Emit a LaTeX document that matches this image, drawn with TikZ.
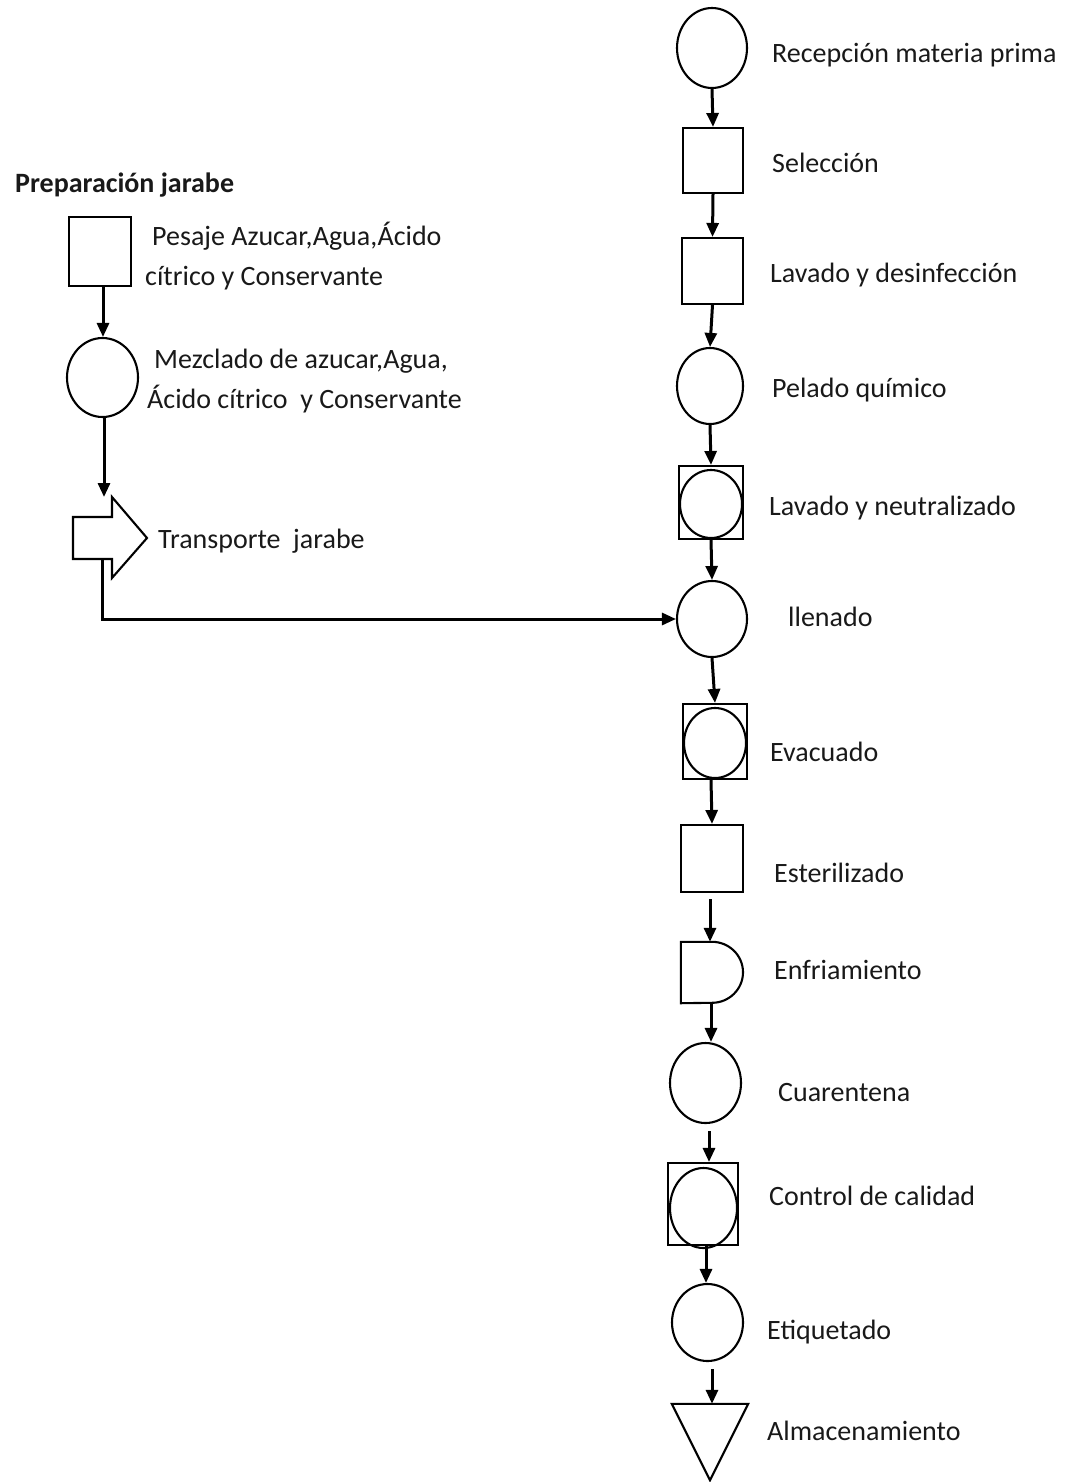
\documentclass[tikz,border=0pt]{standalone}
\usepackage{fontspec}
\setmainfont{Carlito}
\usetikzlibrary{shapes.geometric,arrows.meta}
\begin{document}
\begin{tikzpicture}[x=1pt,y=-1pt,
  shp/.style={draw=black,line width=2.1pt,inner sep=0pt},
  ell/.style={shp,ellipse},
  lbl/.style={anchor=base west,inner sep=0pt,text=black!90,font=\fontsize{28}{34}\selectfont},
  flow/.style={line width=3pt,-{Triangle[length=14pt,width=12pt]}}]
\useasboundingbox (0,0) rectangle (1070,1482);

% main line: shapes
\node[ell,minimum width=70pt,minimum height=80pt] (rec) at (712,48) {};
\node[shp,minimum width=60pt,minimum height=65pt] (sel) at (713,160.5) {};
\node[shp,minimum width=61pt,minimum height=66pt] (lavd) at (712.5,271) {};
\node[ell,minimum width=66pt,minimum height=76pt] (pel) at (710,386) {};
\node[shp,minimum width=64pt,minimum height=73pt] (lavn) at (711,502.5) {};
\node[ell,minimum width=62pt,minimum height=68pt] (lavnc) at (711,504) {};
\node[ell,minimum width=70pt,minimum height=76pt] (llen) at (712,619) {};
\node[shp,minimum width=64pt,minimum height=75pt] (evac) at (715,741.5) {};
\node[ell,minimum width=62pt,minimum height=70pt] (evacc) at (715,743) {};
\node[shp,minimum width=62pt,minimum height=67pt] (est) at (712,858.5) {};
\node[inner sep=0pt,minimum width=62pt,minimum height=61pt] (enf) at (712,972.5) {};
\draw[line width=2.1pt] (enf.north west) -- (enf.north)
  arc[start angle=90,end angle=-90,x radius=31pt,y radius=30.5pt]
  -- (enf.south west) -- cycle;
\node[ell,minimum width=71pt,minimum height=80pt] (cua) at (705.5,1083) {};
\node[shp,minimum width=70pt,minimum height=82pt] (ctl) at (703,1204) {};
\node[ell,minimum width=67pt,minimum height=80pt] (ctlc) at (703.5,1208) {};
\node[ell,minimum width=71pt,minimum height=77pt] (eti) at (707.5,1322.5) {};
\node[inner sep=0pt,minimum width=76pt,minimum height=76pt] (alm) at (710,1442) {};
\draw[line width=2.1pt,line join=miter] (alm.north west) -- (alm.north east) -- (alm.south) -- cycle;

% main line: labels
\node[lbl] (trec) at (772,63) {Recepción materia prima};
\node[lbl] (tsel) at (772,173) {Selección};
\node[lbl] (tlavd) at (770,282) {Lavado y desinfección};
\node[lbl] (tpel) at (772,397) {Pelado químico};
\node[lbl] (tlavn) at (769,515) {Lavado y neutralizado};
\node[lbl] (tllen) at (788,626) {llenado};
\node[lbl] (tevac) at (770,761) {Evacuado};
\node[lbl] (test) at (774,882) {Esterilizado};
\node[lbl] (tenf) at (774,979) {Enfriamiento};
\node[lbl] (tcua) at (778,1101) {Cuarentena};
\node[lbl] (tctl) at (769,1205) {Control de calidad};
\node[lbl] (teti) at (767,1339) {Etiquetado};
\node[lbl] (talm) at (767,1440) {Almacenamiento};

% main line: connectors
\draw[flow] (rec.south) -- (sel.north);
\draw[flow] (sel.south) -- (lavd.north);
\draw[flow] (lavd.south) -- (pel.north);
\draw[flow] (pel.south) -- (lavn.north);
\draw[flow] (lavn.south) -- (llen.north);
\draw[flow] (llen.south) -- (evac.north);
\draw[flow] ([xshift=-4pt]evac.south) -- (est.north);
\draw[flow,shorten <=6pt] ([xshift=-2pt]est.south) -- ([xshift=-2pt]est.south |- enf.north);
\draw[flow] ([xshift=-1pt]enf.south) -- ([xshift=-1pt]enf.south |- cua.north);
\draw[flow,shorten <=7pt] ([xshift=3.5pt]cua.south) -- ([xshift=3.5pt]cua.south |- ctl.north);
\draw[flow] ([xshift=3pt]ctl.south) -- ([xshift=3pt]ctl.south |- eti.north);
\draw[flow,shorten <=7pt] ([xshift=4.5pt]eti.south) -- ([xshift=2pt]alm.north);

% syrup branch
\node[lbl,font=\bfseries\fontsize{28}{34}\selectfont] (tprep) at (15,193) {Preparación jarabe};
\node[shp,minimum width=62pt,minimum height=69pt] (pes) at (100,251.5) {};
\node[ell,minimum width=71pt,minimum height=79pt] (mez) at (102.5,377.5) {};
\draw[line width=2.1pt,line join=miter] (73,517) -- (112,517) -- (112,497) -- (147,538)
  -- (112,578) -- (112,559) -- (73,559) -- cycle;
\coordinate (trin) at (104,497);
\coordinate (trout) at (102,559);

\node[lbl] (tpes1) at (152,245) {Pesaje Azucar,Agua,Ácido};
\node[lbl] (tpes2) at (145,285) {cítrico y Conservante};
\node[lbl] (tmez1) at (154,368) {Mezclado de azucar,Agua,};
\node[lbl] (tmez2) at (147,408) {Ácido cítrico\ \ y Conservante};
\node[lbl] (ttr) at (158,548) {Transporte\ \ jarabe};

\draw[flow] ([xshift=3pt]pes.south) -- ([xshift=3pt]pes.south |- mez.north);
\draw[flow] ([xshift=1.5pt]mez.south) -- (trin);
\draw[flow] (trout) |- (llen.west);
\end{tikzpicture}
\end{document}
